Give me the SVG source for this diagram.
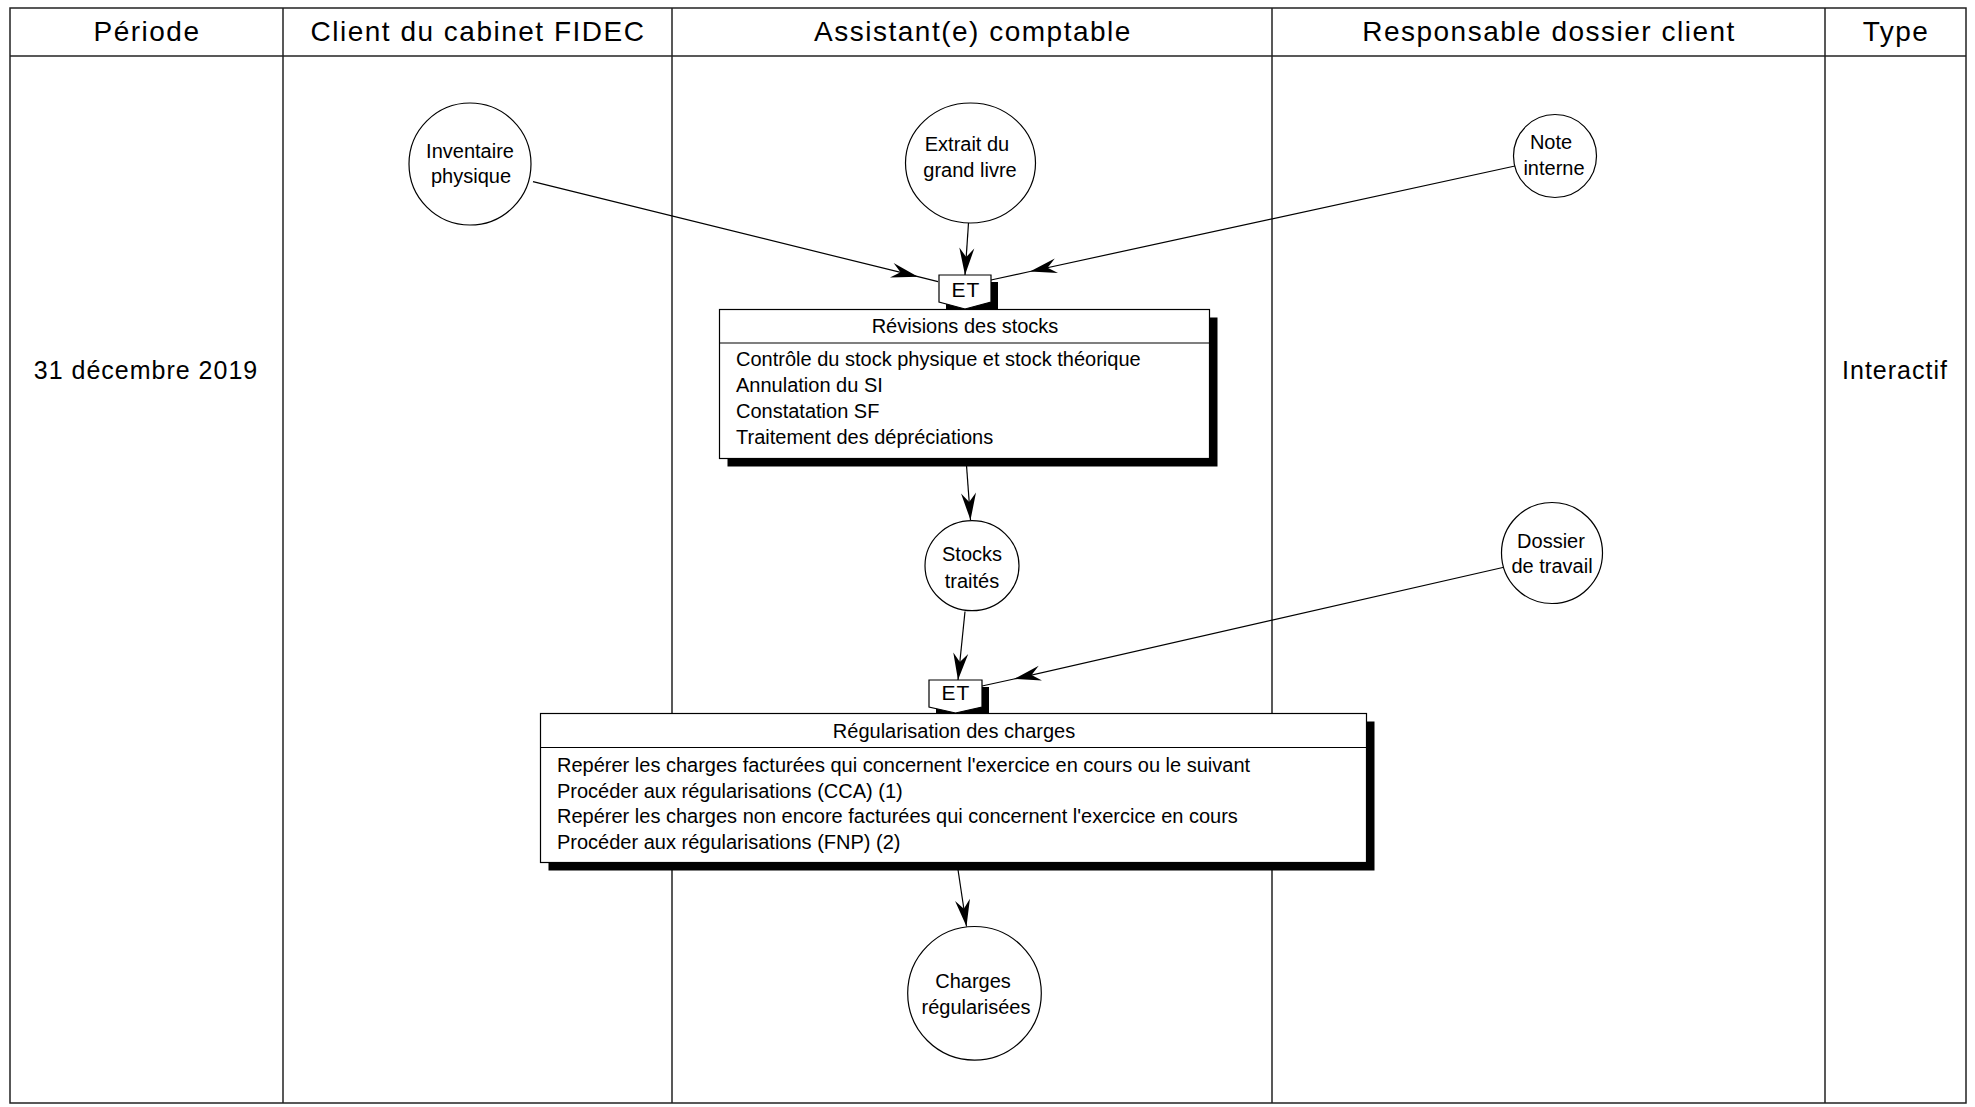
<svg xmlns="http://www.w3.org/2000/svg" width="1975" height="1107" viewBox="0 0 1975 1107">
<style>
  text { font-family: "Liberation Sans", Arial, sans-serif; fill: #000; }
  .hdr { font-size: 28px; letter-spacing: 1.5px; text-anchor: middle; }
  .cell { font-size: 25px; letter-spacing: 1px; text-anchor: middle; }
  .lane { stroke: #222; stroke-width: 1.5; fill: none; }
  .node { fill: #fff; stroke: #000; stroke-width: 1.2; }
  .shadow { fill: #000; stroke: none; }
  .nt { font-size: 20px; text-anchor: middle; }
  .it { font-size: 20px; }
  .et { font-size: 21px; letter-spacing: 1px; text-anchor: middle; }
  .c { fill: none; stroke: #000; stroke-width: 1.2; }
</style>
<defs>
  <marker id="ah" viewBox="-30 -10 32 20" markerWidth="32" markerHeight="20" refX="0" refY="0" orient="auto" markerUnits="userSpaceOnUse">
    <path d="M0,0 L-27,-7.5 L-18,0 L-27,7.5 Z" fill="#000"/>
  </marker>
</defs>
<rect width="1975" height="1107" fill="#fff"/>

<g id="lanes">
  <rect class="lane" x="10" y="8" width="1956" height="1095"/>
  <line class="lane" x1="10" y1="56" x2="1966" y2="56"/>
  <line class="lane" x1="283" y1="8" x2="283" y2="1103"/>
  <line class="lane" x1="672" y1="8" x2="672" y2="1103"/>
  <line class="lane" x1="1272" y1="8" x2="1272" y2="1103"/>
  <line class="lane" x1="1825" y1="8" x2="1825" y2="1103"/>
  <text class="hdr" x="147" y="40.5">Période</text>
  <text class="hdr" x="478" y="40.5">Client du cabinet FIDEC</text>
  <text class="hdr" x="973" y="40.5">Assistant(e) comptable</text>
  <text class="hdr" x="1549" y="40.5">Responsable dossier client</text>
  <text class="hdr" x="1896" y="40.5">Type</text>
  <text class="cell" x="146" y="379">31 décembre 2019</text>
  <text class="cell" x="1895" y="379">Interactif</text>
</g>

<g id="connectors">
  <path class="c" d="M533,181.7 L918,276.7 L938,281.7" marker-mid="url(#ah)"/>
  <path class="c" d="M968.5,223 L965,275" marker-end="url(#ah)"/>
  <path class="c" d="M1515,166 L1030,271.5 L991,280" marker-mid="url(#ah)"/>
  <path class="c" d="M966,458.5 L970.5,520" marker-end="url(#ah)"/>
  <path class="c" d="M965,611.5 L958,680" marker-end="url(#ah)"/>
  <path class="c" d="M1505,567 L1014,679 L982,686" marker-mid="url(#ah)"/>
  <path class="c" d="M957,863 L966.5,926.5" marker-end="url(#ah)"/>
</g>

<g id="inventaire">
  <circle class="node" cx="470" cy="164" r="61"/>
  <text class="nt" x="470" y="158">Inventaire</text>
  <text class="nt" x="471" y="183">physique</text>
</g>

<g id="extrait">
  <ellipse class="node" cx="970.5" cy="163" rx="65" ry="60"/>
  <text class="nt" x="967" y="150.5">Extrait du</text>
  <text class="nt" x="970" y="177">grand livre</text>
</g>

<g id="note">
  <circle class="node" cx="1555" cy="156" r="41.5"/>
  <text class="nt" x="1551" y="149">Note</text>
  <text class="nt" x="1554" y="175">interne</text>
</g>

<g id="et1">
  <polygon class="shadow" points="946,282 998,282 998,309 972,316 946,309"/>
  <polygon class="node" points="939,275 991,275 991,302 965,309 939,302"/>
  <text class="et" x="966" y="296.5">ET</text>
</g>

<g id="revisions">
  <rect class="shadow" x="727.5" y="317.5" width="490" height="149"/>
  <rect class="node" x="719.5" y="309.5" width="490" height="149"/>
  <line class="c" x1="719.5" y1="343" x2="1209.5" y2="343"/>
  <text class="nt" x="965" y="333">Révisions des stocks</text>
  <text class="it" x="736" y="366">Contrôle du stock physique et stock théorique</text>
  <text class="it" x="736" y="392">Annulation du SI</text>
  <text class="it" x="736" y="418">Constatation SF</text>
  <text class="it" x="736" y="444">Traitement des dépréciations</text>
</g>

<g id="stocks">
  <ellipse class="node" cx="972" cy="565.7" rx="47" ry="45"/>
  <text class="nt" x="972" y="560.5">Stocks</text>
  <text class="nt" x="972" y="587.5">traités</text>
</g>

<g id="dossier">
  <circle class="node" cx="1552" cy="553" r="50.5"/>
  <text class="nt" x="1551" y="547.5">Dossier</text>
  <text class="nt" x="1552" y="573">de travail</text>
</g>

<g id="et2">
  <polygon class="shadow" points="936,687 989,687 989,714 962.5,720 936,714"/>
  <polygon class="node" points="929,680 982,680 982,707 955.5,713 929,707"/>
  <text class="et" x="956" y="700">ET</text>
</g>

<g id="regularisation">
  <rect class="shadow" x="548.5" y="721.5" width="826" height="149"/>
  <rect class="node" x="540.5" y="713.5" width="826" height="149"/>
  <line class="c" x1="540.5" y1="747.5" x2="1366.5" y2="747.5"/>
  <text class="nt" x="954" y="738">Régularisation des charges</text>
  <text class="it" x="557" y="771.5">Repérer les charges facturées qui concernent l'exercice en cours ou le suivant</text>
  <text class="it" x="557" y="797.5">Procéder aux régularisations (CCA) (1)</text>
  <text class="it" x="557" y="823">Repérer les charges non encore facturées qui concernent l'exercice en cours</text>
  <text class="it" x="557" y="848.5">Procéder aux régularisations (FNP) (2)</text>
</g>

<g id="charges">
  <circle class="node" cx="974.5" cy="993.3" r="66.8"/>
  <text class="nt" x="973" y="988">Charges</text>
  <text class="nt" x="976" y="1014">régularisées</text>
</g>
</svg>
